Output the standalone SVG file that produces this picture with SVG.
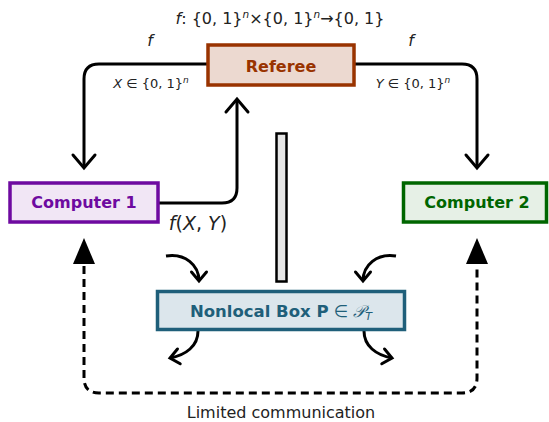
<svg xmlns="http://www.w3.org/2000/svg" width="549" height="422" viewBox="0 0 549 422">
<style>
text{font-family:"DejaVu Sans","Liberation Sans",sans-serif;fill:#222}
.lbl{font-size:16px;font-weight:bold;text-anchor:middle}
.it{font-style:italic}
.ln{fill:none;stroke:#000;stroke-width:3;stroke-linejoin:round}
.dash{fill:none;stroke:#000;stroke-width:3;stroke-dasharray:8 5}
.box{stroke-width:3.5}
</style>
<defs>
<marker id="big" markerUnits="userSpaceOnUse" viewBox="-16 -14 20 28" refX="0" refY="0" markerWidth="20" markerHeight="28" orient="auto">
<path d="M-13,-11 L0,0 L-13,11" fill="none" stroke="#000" stroke-width="3" stroke-linejoin="miter" stroke-linecap="round"/>
</marker>
<marker id="sm" markerUnits="userSpaceOnUse" viewBox="-12 -10 16 20" refX="0" refY="0" markerWidth="16" markerHeight="20" orient="auto">
<path d="M-9,-7.5 L0,0 L-9,7.5" fill="none" stroke="#000" stroke-width="3" stroke-linejoin="miter" stroke-linecap="round"/>
</marker>
</defs>
<g id="connectors">
<path class="ln" d="M208,64 H99 Q84,64 84,79 V168" marker-end="url(#big)"/>
<path class="ln" d="M354,64 H462 Q477,64 477,79 V168" marker-end="url(#big)"/>
<path class="ln" d="M159,203 H222 Q237,203 237,188 V99" marker-end="url(#big)"/>
<path class="ln" d="M166,256 C185,253 199,265 199,281" marker-end="url(#sm)"/>
<path class="ln" d="M396,256 C377,253 363,265 363,281" marker-end="url(#sm)"/>
<path class="ln" d="M198,331 C198,346 186,355 170,358" marker-end="url(#sm)"/>
<path class="ln" d="M364,331 C364,346 376,355 392,358" marker-end="url(#sm)"/>
<path class="dash" d="M84,266 V378 Q84,393 99,393 H462 Q477,393 477,378 V266"/>
<path d="M84,238 L95,264 L73,264 Z" fill="#000"/>
<path d="M477,238 L488,264 L466,264 Z" fill="#000"/>
<rect x="276.5" y="133.5" width="10" height="148" fill="#e6e6e6" stroke="#000" stroke-width="2.5"/>
</g>
<g id="referee">
<rect class="box" x="208" y="45" width="146" height="40" fill="#ecd9d0" stroke="#993300"/>
<text class="lbl" x="281" y="72" style="fill:#993300">Referee</text>
</g>
<g id="computer1">
<rect class="box" x="10" y="183" width="148" height="39" fill="#f1e6f5" stroke="#6e0aa0"/>
<text class="lbl" x="84" y="208" style="fill:#6e0aa0">Computer 1</text>
</g>
<g id="computer2">
<rect class="box" x="403.5" y="183" width="143" height="39" fill="#e6f0e6" stroke="#006600"/>
<text class="lbl" x="477" y="208" style="fill:#006600">Computer 2</text>
</g>
<g id="nonlocal">
<rect class="box" x="157.5" y="291.5" width="247" height="38" fill="#dce6ec" stroke="#1f5f7a"/>
<text x="281" y="317" text-anchor="middle" style="font-size:16.5px;fill:#1f5f7a"><tspan font-weight="bold">Nonlocal Box P</tspan> ∈ <tspan class="it">𝒫</tspan><tspan class="it" font-size="11" dy="3">T</tspan></text>
</g>
<g id="labels">
<text x="280" y="24" text-anchor="middle" style="font-size:16px"><tspan class="it">f</tspan>: {0, 1}<tspan class="it" font-size="10.5" dy="-6">n</tspan><tspan dy="6">×{0, 1}</tspan><tspan class="it" font-size="10.5" dy="-6">n</tspan><tspan dy="6">→{0, 1}</tspan></text>
<text class="it" x="150" y="46" text-anchor="middle" style="font-size:16px">f</text>
<text class="it" x="411" y="46" text-anchor="middle" style="font-size:16px">f</text>
<text x="151" y="88" text-anchor="middle" style="font-size:13px"><tspan class="it">X</tspan> ∈ {0, 1}<tspan class="it" font-size="9" dy="-5">n</tspan></text>
<text x="413" y="88" text-anchor="middle" style="font-size:13px"><tspan class="it">Y</tspan> ∈ {0, 1}<tspan class="it" font-size="9" dy="-5">n</tspan></text>
<text x="198" y="230" text-anchor="middle" style="font-size:19px"><tspan class="it">f</tspan>(<tspan class="it">X</tspan>, <tspan class="it">Y</tspan>)</text>
<text x="281" y="418" text-anchor="middle" style="font-size:16px">Limited communication</text>
</g>
</svg>
